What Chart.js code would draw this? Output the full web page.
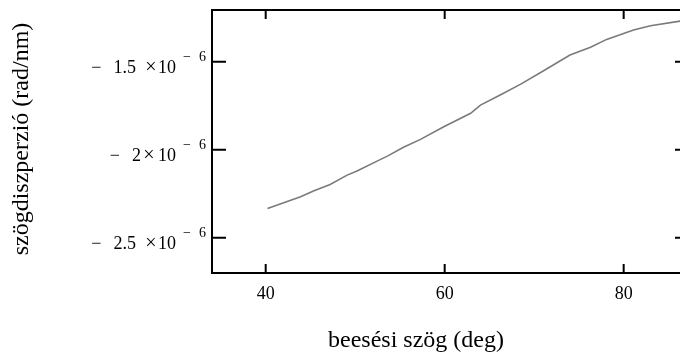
<!DOCTYPE html>
<html><head><meta charset="utf-8">
<script src="https://cdn.jsdelivr.net/npm/chart.js@4/dist/chart.umd.min.js"></script>
<style>html,body{margin:0;padding:0;background:#fff;overflow:hidden;width:680px;height:353px}
canvas{display:block}</style></head>
<body><canvas id="c" width="700" height="353"></canvas>
<script>
const angles = [40.2, 43.9, 45.4, 47.2, 49.1, 50.2, 52.5, 53.6, 55.4, 57.3, 59.9, 62.9, 64.0, 66.2, 68.5, 71.1, 74.0, 76.3, 78.1, 81.1, 83.0, 86.3, 87.3];
const dispersion = [-2.333e-6, -2.267e-6, -2.233e-6, -2.197e-6, -2.144e-6, -2.121e-6, -2.063e-6, -2.036e-6, -1.986e-6, -1.941e-6, -1.869e-6, -1.793e-6, -1.746e-6, -1.689e-6, -1.627e-6, -1.550e-6, -1.462e-6, -1.418e-6, -1.373e-6, -1.320e-6, -1.295e-6, -1.269e-6, -1.262e-6];
const xTickValues = [40, 60, 80];
const yTickValues = [-2.5e-6, -2e-6, -1.5e-6];
const yTickMantissa = ['2.5', '2', '1.5'];
const yTickExponent = '6';
const xTitle = 'beesési szög (deg)';
const yTitle = 'szögdiszperzió (rad/nm)';

const SERIF = "'Liberation Serif', 'Times New Roman', serif";

const framePlugin = {
  id: 'frame',
  afterDraw(chart) {
    const ctx = chart.ctx;
    const a = chart.chartArea;
    const xs = chart.scales.x, ys = chart.scales.y;
    ctx.save();
    ctx.strokeStyle = '#000';
    ctx.lineWidth = 2;
    ctx.beginPath();
    ctx.moveTo(a.left - 1, a.top); ctx.lineTo(a.right, a.top);
    ctx.moveTo(a.right, a.top); ctx.lineTo(a.right, a.bottom);
    xs.ticks.forEach(t => {
      const px = xs.getPixelForValue(t.value);
      ctx.moveTo(px, a.top); ctx.lineTo(px, a.top + 9);
      ctx.moveTo(px, a.bottom); ctx.lineTo(px, a.bottom - 9);
    });
    ys.ticks.forEach(t => {
      const py = ys.getPixelForValue(t.value);
      ctx.moveTo(a.left, py); ctx.lineTo(a.left + 14, py);
      ctx.moveTo(a.right, py); ctx.lineTo(a.right - 14, py);
    });
    ctx.stroke();

    ctx.fillStyle = '#000';
    ctx.textBaseline = 'alphabetic';
    ys.ticks.forEach((t, i) => {
      const py = ys.getPixelForValue(t.value);
      const m = yTickMantissa[i];
      const dec = m.indexOf('.') >= 0;
      const base = py + 11;
      ctx.font = '18px ' + SERIF;
      ctx.textAlign = 'right';
      ctx.fillText('10', 176, base);
      ctx.textAlign = 'center';
      ctx.font = '20px ' + SERIF;
      ctx.fillText('\u00d7', dec ? 151 : 149, base);
      ctx.font = '18px ' + SERIF;
      ctx.textAlign = 'right';
      const mr = dec ? 136 : 141;
      ctx.fillText(m, mr, base);
      const w = ctx.measureText(m).width;
      ctx.fillText('\u2212', mr - w - 12, base);
      ctx.font = '14px ' + SERIF;
      ctx.fillText(yTickExponent, 206, py - 0.5);
      ctx.fillText('\u2212', 191, py - 0.5);
    });

    ctx.font = '24px ' + SERIF;
    ctx.textAlign = 'center';
    ctx.fillText(xTitle, 416, 347);
    ctx.translate(22, 139);
    ctx.rotate(-Math.PI / 2);
    ctx.textBaseline = 'middle';
    ctx.fillText(yTitle, 0, 0);
    ctx.restore();
  }
};

new Chart(document.getElementById('c'), {
  type: 'line',
  data: {
    datasets: [{
      data: angles.map((a, i) => ({ x: a, y: dispersion[i] })),
      borderColor: '#7a7a7a',
      borderWidth: 1.6,
      pointRadius: 0,
      tension: 0,
      fill: false
    }]
  },
  options: {
    responsive: false,
    animation: false,
    devicePixelRatio: 1,
    layout: { padding: { left: 0, top: 10, right: 11, bottom: 0 } },
    plugins: { legend: { display: false }, tooltip: { enabled: false }, title: { display: false } },
    scales: {
      x: {
        type: 'linear', position: 'bottom', min: 34, max: 87.3,
        afterBuildTicks: s => { s.ticks = xTickValues.map(v => ({ value: v })); },
        afterFit: s => { s.height = 80; },
        grid: { display: true, drawOnChartArea: false, drawTicks: false },
        border: { display: true, color: '#000', width: 2 },
        ticks: { color: '#000', font: { family: SERIF, size: 18 }, padding: 10, maxRotation: 0, autoSkip: false,
          callback: v => String(v) }
      },
      y: {
        type: 'linear', position: 'left', min: -2.70e-6, max: -1.206e-6,
        afterBuildTicks: s => { s.ticks = yTickValues.map(v => ({ value: v })); },
        afterFit: s => { s.width = 212; },
        grid: { display: true, drawOnChartArea: false, drawTicks: false },
        border: { display: true, color: '#000', width: 2 },
        ticks: { display: false }
      }
    }
  },
  plugins: [framePlugin]
});
</script>
</body></html>
